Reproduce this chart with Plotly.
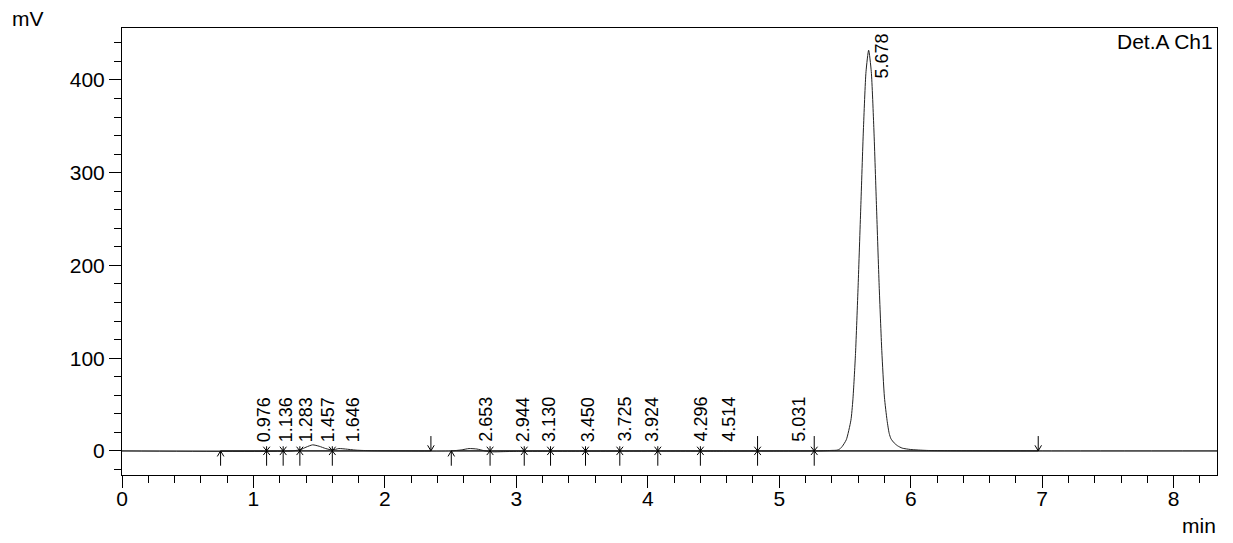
import plotly.graph_objects as go

# ---------------- data ----------------
time_min = [0.00, 1.30, 1.36, 1.40, 1.45, 1.50, 1.55, 1.60, 1.65, 1.70, 1.78, 1.90,
            2.50, 2.58, 2.64, 2.70, 2.76, 2.82, 2.90, 3.00, 3.50, 4.00, 4.50, 5.00,
            5.30, 5.40, 5.44, 5.46, 5.48, 5.51, 5.545, 5.56, 5.58, 5.60, 5.62, 5.64,
            5.66, 5.68, 5.70, 5.72, 5.74, 5.76, 5.78, 5.80, 5.82, 5.836, 5.85, 5.874,
            5.90, 5.935, 6.00, 6.12, 6.30, 7.00, 8.33]
signal_mv = [0.0, 0.0, 1.5, 4.0, 6.5, 5.0, 2.5, 1.0, 2.5, 2.0, 0.8, 0.2,
             0.0, 1.0, 2.5, 2.0, 0.0, -1.0, -0.8, -0.5, -0.4, -0.3, -0.3, -0.2,
             0.0, 0.5, 0.8, 2.0, 5.0, 12.0, 33.0, 55.0, 105.0, 178.0, 262.0, 346.0,
             409.0, 432.0, 409.0, 346.0, 262.0, 178.0, 108.0, 58.0, 33.0, 19.0, 13.0, 8.6,
             5.5, 3.0, 1.5, 0.5, 0.2, 0.0, 0.0]

peak_labels = ["0.976", "1.136", "1.283", "1.457", "1.646", "2.653", "2.944", "3.130",
               "3.450", "3.725", "3.924", "4.296", "4.514", "5.031", "5.678"]
label_x = [1.087, 1.254, 1.406, 1.573, 1.763, 2.771, 3.057, 3.252,
           3.551, 3.827, 4.037, 4.405, 4.620, 5.152, 5.783]
label_y = [8.6, 8.6, 8.6, 8.6, 8.6, 8.6, 8.6, 8.6,
           8.6, 8.6, 8.6, 8.6, 8.6, 8.6, 400.0]

start_marks = [0.75, 2.505]
end_marks = [2.35, 6.97]
split_marks = [1.10, 1.226, 1.353, 1.60, 2.80, 3.06, 3.26, 3.526, 3.787, 4.076, 4.40]
tall_marks = [4.835, 5.266]
base_start = [0.75, 2.505, 5.266]
base_end = [2.35, 5.266, 6.97]

x_range = [0, 8.33]
y_range = [-26, 456]

# ---------------- marker geometry (style) ----------------
ARROW_LEN = 16.0
CHEV_DX = 0.025
CHEV_DY = 6.0
SPLIT_TOP = 5.0
SPLIT_BOT = -16.0
TALL_TOP = 16.0
X_DX = 0.025
X_DY = 4.5

def seg_lists():
    xs, ys = [], []
    def seg(pts):
        for p in pts:
            xs.append(p[0]); ys.append(p[1])
        xs.append(None); ys.append(None)
    for t in start_marks:
        seg([(t, -ARROW_LEN), (t, 0)])
        seg([(t - CHEV_DX, -CHEV_DY), (t, 0), (t + CHEV_DX, -CHEV_DY)])
    for t in end_marks:
        seg([(t, ARROW_LEN), (t, 0)])
        seg([(t - CHEV_DX, CHEV_DY), (t, 0), (t + CHEV_DX, CHEV_DY)])
    for t in split_marks:
        seg([(t, SPLIT_TOP), (t, SPLIT_BOT)])
    for t in tall_marks:
        seg([(t, TALL_TOP), (t, SPLIT_BOT)])
    for t in split_marks + tall_marks:
        seg([(t - X_DX, -X_DY), (t + X_DX, X_DY)])
        seg([(t - X_DX, X_DY), (t + X_DX, -X_DY)])
    return xs, ys

fig = go.Figure()

# integration baselines
bx, by = [], []
for a, b in zip(base_start, base_end):
    bx += [a, b, None]
    by += [0, 0, None]
fig.add_trace(go.Scatter(x=bx, y=by, mode="lines",
                         line=dict(color="black", width=1), hoverinfo="skip"))

# chromatogram
fig.add_trace(go.Scatter(x=time_min, y=signal_mv, mode="lines",
                         line=dict(color="#222222", width=1, shape="spline", smoothing=0.6)))

# peak markers
mx, my = seg_lists()
fig.add_trace(go.Scatter(x=mx, y=my, mode="lines",
                         line=dict(color="black", width=1), hoverinfo="skip"))

FONT = "Liberation Sans, Arial, Helvetica, sans-serif"

annotations = []
for txt, lx, ly in zip(peak_labels, label_x, label_y):
    annotations.append(dict(x=lx, y=ly, xref="x", yref="y", text=txt, showarrow=False,
                            textangle=-90, xanchor="center", yanchor="bottom",
                            font=dict(family=FONT, size=18, color="black"),
                            borderpad=0))
annotations.append(dict(x=0.997, y=0.998, xref="paper", yref="paper", text="Det.A Ch1",
                        showarrow=False, xanchor="right", yanchor="top",
                        font=dict(family=FONT, size=21, color="black"), borderpad=0))
annotations.append(dict(x=-0.1014, y=1.049, xref="paper", yref="paper", text="mV",
                        showarrow=False, xanchor="left", yanchor="top",
                        font=dict(family=FONT, size=21, color="black"), borderpad=0))
annotations.append(dict(x=1.0, y=-0.085, xref="paper", yref="paper", text="min",
                        showarrow=False, xanchor="right", yanchor="top",
                        font=dict(family=FONT, size=21, color="black"), borderpad=0))

# page body adds an 8px offset; margins compensate so the plot box lands at
# left 122, right 1217, top 28, bottom 475.5 in the window
fig.update_layout(
    width=1233, height=543,
    margin=dict(l=114, r=24, t=20, b=75.5),
    paper_bgcolor="white", plot_bgcolor="white",
    showlegend=False,
    font=dict(family=FONT, size=21, color="black"),
    annotations=annotations,
)
fig.update_xaxes(range=x_range, dtick=1, tick0=0, ticks="outside", ticklen=12,
                 tickcolor="black", tickwidth=1, showgrid=False, zeroline=False,
                 showline=True, linecolor="black", linewidth=1, mirror=True,
                 ticklabelstandoff=-7,
                 tickfont=dict(family=FONT, size=21, color="black"),
                 minor=dict(dtick=0.2, tick0=0, ticks="outside", ticklen=7,
                            tickcolor="black", tickwidth=1, showgrid=False))
fig.update_yaxes(range=y_range, dtick=100, tick0=0, ticks="outside", ticklen=12,
                 tickcolor="black", tickwidth=1, showgrid=False,
                 zeroline=True, zerolinecolor="#a6a6a6", zerolinewidth=2,
                 showline=True, linecolor="black", linewidth=1, mirror=True,
                 tickfont=dict(family=FONT, size=21, color="black"),
                 minor=dict(dtick=20, tick0=0, ticks="outside", ticklen=7,
                            tickcolor="black", tickwidth=1, showgrid=False))

fig.write_html("out.html")
